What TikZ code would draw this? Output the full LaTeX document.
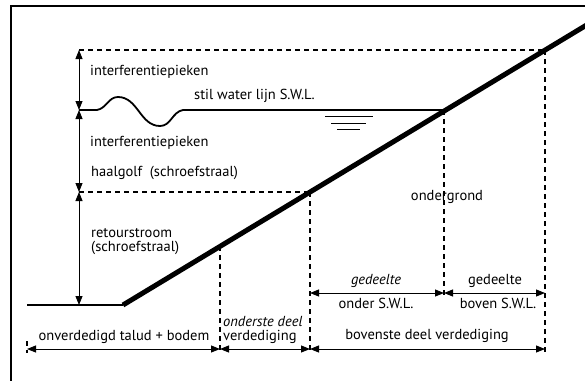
\documentclass[tikz,border=0pt]{standalone}
\usepackage{fontspec}
\setmainfont{PT Sans}
\usetikzlibrary{arrows.meta}

\begin{document}
\begin{tikzpicture}[
    x=1pt, y=-1pt,
    font=\fontsize{14.5}{14}\selectfont,
    frame/.style={line width=1.2pt},
    helpline/.style={dash pattern=on 5pt off 4pt, line width=1.5pt},
    slope/.style={line width=5pt},
    bed/.style={line width=2.6pt},
    water/.style={line width=1.8pt},
    arrow/.style={line width=0.9pt,<->,>={Triangle[length=9pt,width=7pt]}},
    lbl/.style={inner sep=0pt, anchor=west},
    dimlbl/.style={inner sep=0pt}
]
    \clip (0,0) rectangle (585,380);

    % Levels on the left
    \coordinate (topL) at (79,50);
    \coordinate (swlL) at (79,110);
    \coordinate (haalL) at (79,192);
    \coordinate (bedL) at (79,305);
    \coordinate (bed0) at (27,305);
    \coordinate (toe) at (123,305);
    \coordinate (crest) at (628,0);

    % Points on the slope
    \coordinate (sA) at (220,246);
    \coordinate (sB) at (310,192);
    \coordinate (sC) at (444,110);
    \coordinate (sD) at (545,50);

    % Feet of the dashed verticals
    \coordinate (tickT) at (27,341);
    \coordinate (tickB) at (27,353);
    \coordinate (fA) at (220,353);
    \coordinate (fB) at (310,353);
    \coordinate (fC) at (444,298);
    \coordinate (fD) at (545,353);

    % Ends of the dimension lines
    \coordinate (dL) at (27,349);
    \coordinate (dA) at (220,349);
    \coordinate (dB) at (310,349);
    \coordinate (dD) at (545,349);
    \coordinate (mB) at (310,293);
    \coordinate (mC) at (444,293);
    \coordinate (mD) at (545,293);

    % Frame
    \draw [frame] (11,400) -- (11,6) -- (600,6);

    % Dashed helplines
    \draw [helpline] (topL) -- (sD);
    \draw [helpline] (haalL) -- (sB);
    \draw [helpline] (sA) -- (fA);
    \draw [helpline] (sB) -- (fB);
    \draw [helpline] (sC) -- (fC);
    \draw [helpline] (sD) -- (fD);
    \draw [helpline] (tickT) -- (tickB);

    % Bed and slope
    \draw [bed] (bed0) -- (toe);
    \draw [slope] (toe) -- (crest);

    % Still water line with wave
    \draw [water] (swlL) -- (97,110) to[out=10,in=180] (118,97)
        to[out=0,in=180] (160,126) to[out=0,in=190] (183,110) -- (sC);
    \draw [line width=1pt] (325,116) -- (373,116);
    \draw [line width=1pt] (331,123) -- (366,123);
    \draw [line width=1pt] (337,129) -- (360,129);

    % Heights on the left
    \draw [arrow] (topL) -- (swlL);
    \draw [arrow] (swlL) -- (haalL);
    \draw [arrow] (haalL) -- (bedL);

    % Widths below
    \draw [arrow] (mB) -- (mC);
    \draw [arrow] (mC) -- (mD);
    \draw [arrow] (dL) -- (dA);
    \draw [arrow] (dA) -- (dB);
    \draw [arrow] (dB) -- (dD);

    % Labels
    \node [lbl] (ipTop) at (90,72) {interferentiepieken};
    \node [lbl] (swl) at (194,96) {stil water lijn S.W.L.};
    \node [lbl] (ipLow) at (90,143) {interferentiepieken};
    \node [lbl] (haal) at (91,173) {haalgolf\ \ (schroefstraal)};
    \node [lbl, align=left] (retour) at (91,242) {retourstroom\\(schroefstraal)};
    \node [dimlbl] (grond) at (447,197) {ondergrond};
    \node [dimlbl] (gdOnder) at (376,281) {\itshape gedeelte};
    \node [dimlbl] (onder) at (376,303) {onder S.W.L.};
    \node [dimlbl] (gdBoven) at (495,281) {gedeelte};
    \node [dimlbl] (boven) at (498,303) {boven S.W.L.};
    \node [dimlbl] (onverd) at (124,337) {onverdedigd talud + bodem};
    \node [dimlbl, anchor=west] (onderste) at (223,322) {\itshape onderste deel};
    \node [dimlbl, anchor=west] (verd) at (223,337) {verdediging};
    \node [dimlbl] (bovenste) at (427,336) {bovenste deel verdediging};
\end{tikzpicture}
\end{document}
